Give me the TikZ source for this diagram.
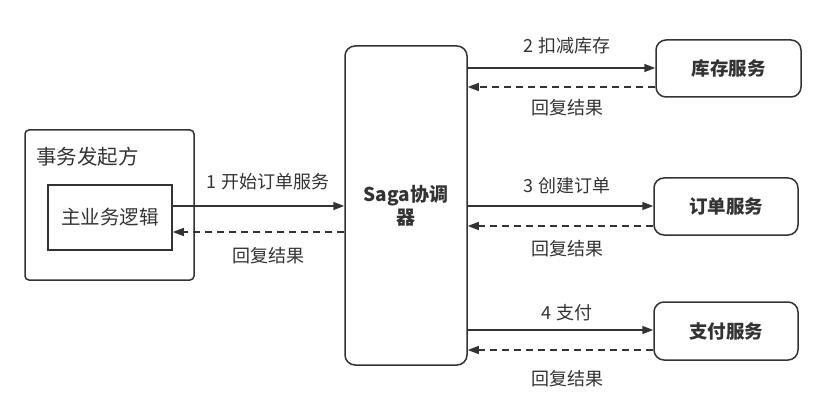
\documentclass[tikz,border=0pt]{standalone}
\usepackage{fontspec}
\setmainfont{Noto Sans CJK SC}
\usetikzlibrary{arrows.meta}
\definecolor{ink}{HTML}{333333}
\tikzset{
  box/.style={draw=ink, line width=1.5pt, rounded corners=10pt, text=ink},
  lbl/.style={text=ink, font=\fontsize{18}{21}\selectfont, inner sep=0pt},
  svc/.style={box, font=\bfseries\fontsize{18.5}{22}\selectfont},
  req/.style={draw=ink, line width=1.5pt, -{Triangle[length=11pt,width=8pt]}},
  rep/.style={draw=ink, line width=1.5pt, dash pattern=on 7pt off 5pt, -{Triangle[length=11pt,width=8pt]}},
}
\begin{document}
\begin{tikzpicture}[x=1pt,y=-1pt]
\useasboundingbox (0,0) rectangle (825,417);
% initiator
\draw[box, rounded corners=4pt] (25,130) rectangle (194,280);
\node[lbl, anchor=west, font=\fontsize{20.5}{24}\selectfont] (initlbl) at (36,157) {事务发起方};
\node[draw=ink, line width=1.5pt, minimum width=124pt, minimum height=65pt, inner sep=0pt, text=ink, font=\fontsize{19.5}{22}\selectfont] (main) at (110,217.5) {主业务逻辑};
% saga
\node[box, minimum width=122pt, minimum height=319pt, inner sep=0pt, align=center, font=\bfseries\fontsize{19}{23}\selectfont] (saga) at (406,205.5) {Saga协调\\器};
% services
\node[svc, minimum width=145pt, minimum height=57pt, inner sep=0pt] (inv) at (728.5,68.5) {库存服务};
\node[svc, minimum width=144pt, minimum height=57pt, inner sep=0pt] (ord) at (726,206.5) {订单服务};
\node[svc, minimum width=144pt, minimum height=58pt, inner sep=0pt] (pay) at (726,331) {支付服务};
% arrows initiator
\draw[req] (main.east |- 0,206) -- (saga.west |- 0,206);
\draw[rep] (saga.west |- 0,232) -- (main.east |- 0,232);
\node[lbl] (l1) at (268,182) {1 开始订单服务};
\node[lbl] (r1) at (268,256) {回复结果};
% inventory
\draw[req] (saga.east |- 0,68) -- (inv.west |- 0,68);
\draw[rep] (inv.west |- 0,87) -- (saga.east |- 0,87);
\node[lbl] (l2) at (567,46) {2 扣减库存};
\node[lbl] (r2) at (567,108) {回复结果};
% order
\draw[req] (saga.east |- 0,206) -- (ord.west |- 0,206);
\draw[rep] (ord.west |- 0,226) -- (saga.east |- 0,226);
\node[lbl] (l3) at (567,186) {3 创建订单};
\node[lbl] (r3) at (567,249) {回复结果};
% pay
\draw[req] (saga.east |- 0,330) -- (pay.west |- 0,330);
\draw[rep] (pay.west |- 0,350) -- (saga.east |- 0,350);
\node[lbl] (l4) at (567,313) {4 支付};
\node[lbl] (r4) at (567,379) {回复结果};
\end{tikzpicture}
\end{document}
